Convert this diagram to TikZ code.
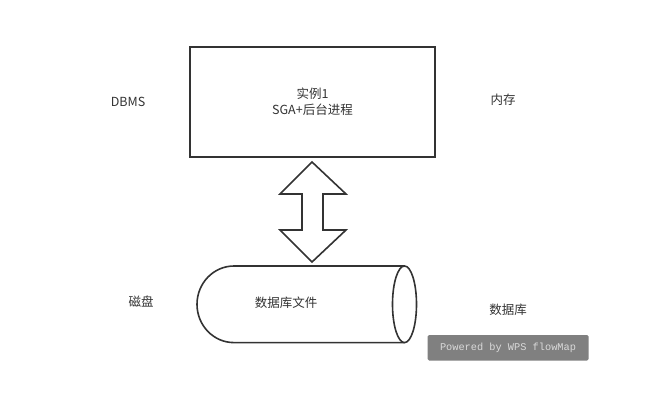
\documentclass[tikz,border=0pt]{standalone}
\usepackage{fontspec}
\setmainfont{Noto Sans CJK SC}
\newfontfamily\wmfont{Liberation Mono}
\definecolor{edge}{HTML}{333333}
\definecolor{wmgray}{HTML}{808080}
\definecolor{wmtext}{HTML}{DADADA}
\tikzset{
  lbl/.style={inner sep=0pt, font=\fontsize{12.5}{16}\selectfont, text=edge, align=center},
  outline/.style={draw=edge, line width=1.6pt, fill=white},
}

\begin{document}
\begin{tikzpicture}[x=1pt,y=-1pt]
\useasboundingbox (0,0) rectangle (651,404);
% instance box
\draw[outline] (190,47) rectangle (435,157);
\node[lbl] (inst) at (312.5,102) {实例1\\SGA+后台进程};
% two-way arrow
\draw[outline, line join=miter] (312,162) -- (346,194) -- (323,194) -- (323,230) -- (346,230)
  -- (312,262) -- (280,230) -- (302,230) -- (302,194) -- (280,194) -- cycle;
% database file
\draw[outline] (404.5,266) -- (234,266) arc[start angle=270, end angle=90, x radius=37, y radius=38.3]
  -- (404.5,342.6);
\draw[outline] (404.5,304.3) ellipse[x radius=12, y radius=38.3];
\node[lbl] (dbfile) at (286,303) {数据库文件};
% side labels
\node[lbl] (dbms) at (128,102) {DBMS};
\node[lbl] (mem) at (503,100) {内存};
\node[lbl] (disk) at (141,302) {磁盘};
\node[lbl] (db) at (508,310) {数据库};
% watermark
\fill[wmgray, rounded corners=1.5pt] (427.5,335) rectangle (588.5,360.5);
\node[inner sep=0pt, text=wmtext, font=\wmfont\fontsize{10.3}{12}\selectfont] (wm) at (508,348) {Powered by WPS flowMap};
\end{tikzpicture}
\end{document}
